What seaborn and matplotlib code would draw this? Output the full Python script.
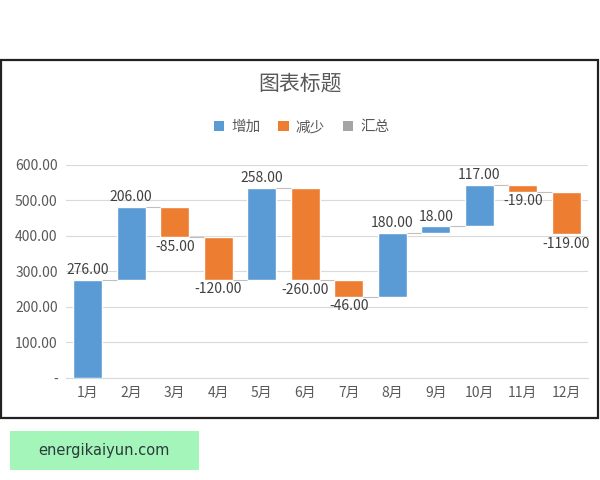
import numpy as np
import matplotlib
matplotlib.use("Agg")
import matplotlib.pyplot as plt
from matplotlib.patches import Patch, Rectangle
import pandas as pd
import seaborn as sns

# 数据
months = ["1月", "2月", "3月", "4月", "5月", "6月", "7月", "8月", "9月", "10月", "11月", "12月"]
changes = [276, 206, -85, -120, 258, -260, -46, 180, 18, 117, -19, -119]
legend_names = ["增加", "减少", "汇总"]
colors = {"增加": "#5B9BD5", "减少": "#ED7D31", "汇总": "#A5A5A5"}
yticks = [0, 100, 200, 300, 400, 500, 600]

sns.set_style("white")
plt.rcParams["font.family"] = ["Noto Sans CJK SC", "DejaVu Sans"]

ends = np.cumsum(changes)
starts = ends - np.array(changes)
df = pd.DataFrame({
    "month": months,
    "size": np.abs(changes),
    "kind": ["增加" if v >= 0 else "减少" for v in changes],
    "start": starts,
    "end": ends,
})

fig = plt.figure(figsize=(6, 4.8), dpi=100)
ax = fig.add_axes([0.11, 0.2125, 0.87, 0.4438])

sns.barplot(data=df, x="month", y="size", hue="kind", order=months,
            palette=colors, dodge=False, width=0.67, legend=False,
            saturation=1, ax=ax)

# 把每根柱子移到它的起点
for p in ax.patches:
    i = int(round(p.get_x() + p.get_width() / 2))
    p.set_y(min(df["start"][i], df["end"][i]))

# 连接线
for i in range(len(months) - 1):
    ax.hlines(df["end"][i], i + 0.33, i + 1 - 0.33, color="#bfbfbf", lw=0.8, zorder=1)

# 数据标签
for i, v in enumerate(changes):
    if v >= 0:
        ax.annotate(f"{v:.2f}", (i, df["end"][i]), xytext=(0, 2), textcoords="offset points",
                    ha="center", va="bottom", fontsize=10, color="#404040")
    else:
        ax.annotate(f"{v:.2f}", (i, df["end"][i]), xytext=(0, -2), textcoords="offset points",
                    ha="center", va="top", fontsize=10, color="#404040")

ax.set_xlim(-0.5, len(months) - 0.5)
ax.set_ylim(0, 600)
ax.set_yticks(yticks)
ax.set_yticklabels(["-" if t == 0 else f"{t:.2f}" for t in yticks])
ax.yaxis.grid(True, color="#d9d9d9", lw=0.8)
ax.set_axisbelow(True)
ax.set_xlabel("")
ax.set_ylabel("")
for s in ["left", "right", "top"]:
    ax.spines[s].set_visible(False)
ax.spines["bottom"].set_color("#d9d9d9")
ax.tick_params(axis="both", length=0, labelsize=10, labelcolor="#595959", pad=6)

fig.text(0.5, 0.825, "图表标题", ha="center", va="center", fontsize=15, color="#595959")
handles = [Patch(facecolor=colors[n], edgecolor="none") for n in legend_names]
fig.legend(handles, legend_names, loc="center", bbox_to_anchor=(0.503, 0.735), ncol=3,
           frameon=False, handlelength=0.7, handleheight=0.7, handletextpad=0.5,
           columnspacing=1.2, fontsize=10.5, labelcolor="#595959")

# 外框
fig.patches.append(Rectangle((0.002, 0.129), 0.994, 0.746, transform=fig.transFigure,
                             fill=False, edgecolor="#222222", lw=1.6))
# 水印
fig.patches.append(Rectangle((0.017, 0.021), 0.315, 0.081, transform=fig.transFigure,
                             facecolor="#a3f5b9", edgecolor="none"))
fig.text(0.174, 0.0625, "energikaiyun.com", ha="center", va="center", fontsize=10.5,
         color="#2b3a3a", family="DejaVu Sans")

fig.savefig("out.png", dpi=100)
